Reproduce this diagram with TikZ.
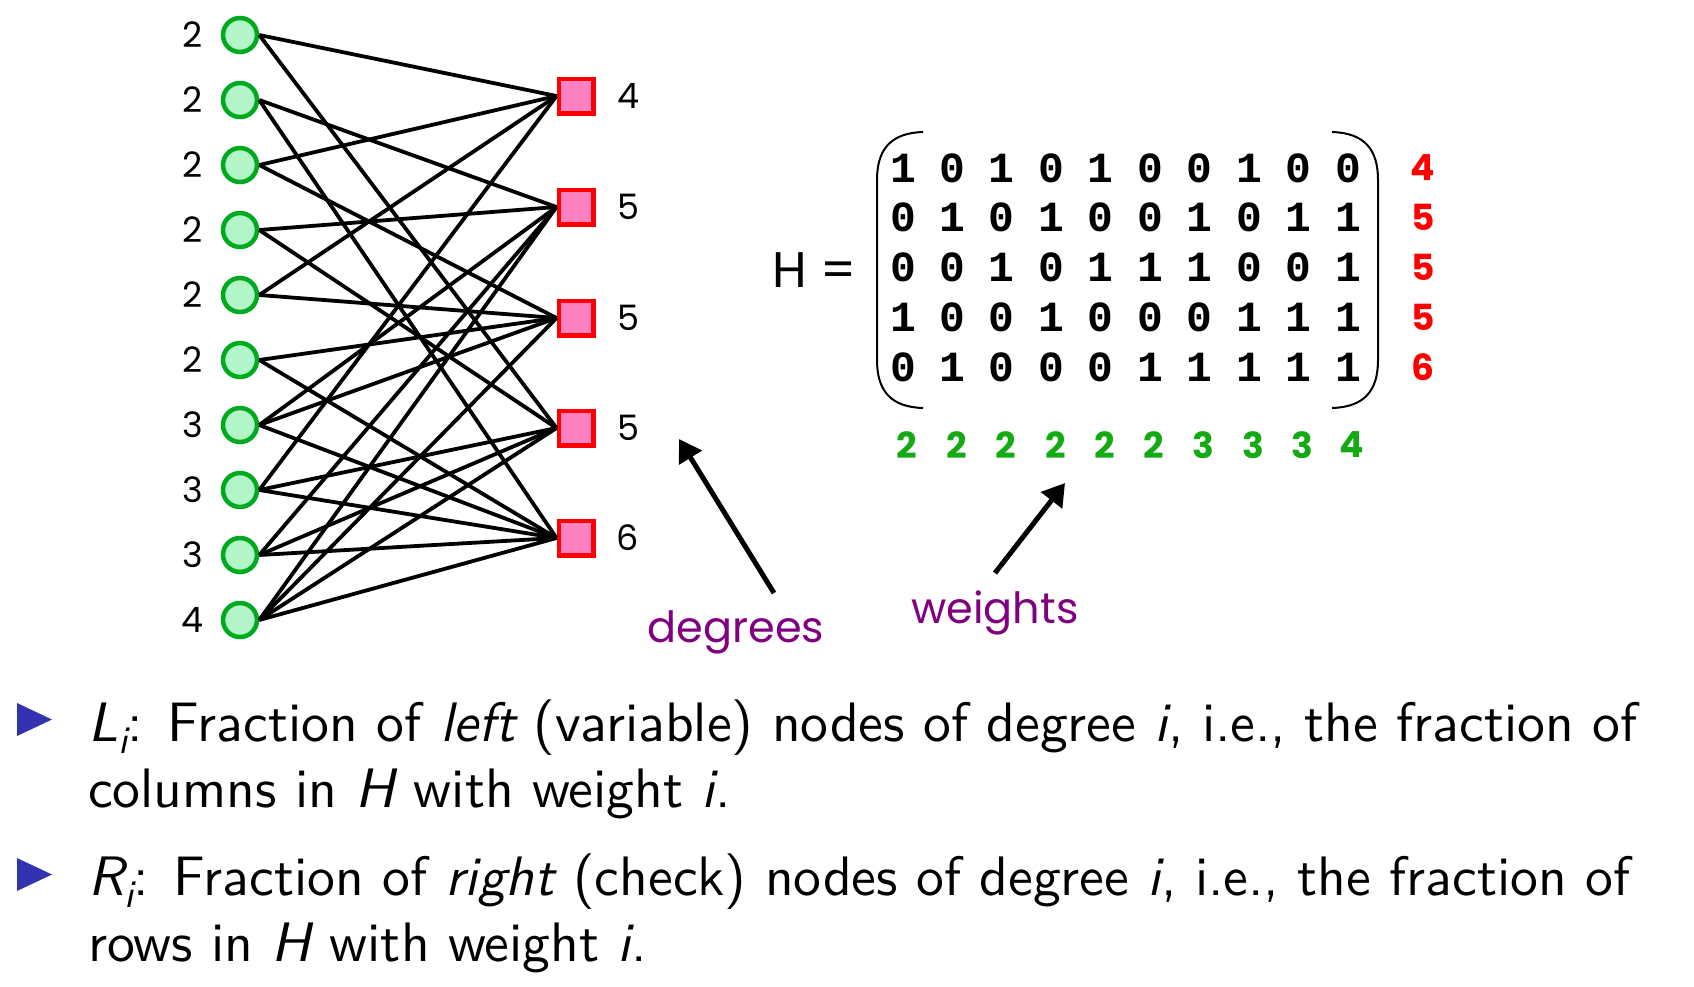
\documentclass[tikz,border=0pt]{standalone}
\usepackage{fontspec}
\usetikzlibrary{arrows.meta}
\newfontfamily\comic{Poppins}
\newfontfamily\monof{Liberation Mono}
\newfontfamily\bsans{lmsans10-regular}[Extension=.otf,ItalicFont=lmsans10-oblique]
\definecolor{vgreen}{RGB}{0,170,30}
\definecolor{vfill}{RGB}{178,245,200}
\definecolor{cpink}{RGB}{255,128,192}
\definecolor{wgreen}{RGB}{20,170,20}
\definecolor{purp}{RGB}{128,0,128}
\definecolor{bulletblue}{RGB}{51,51,178}
\newcommand\lowsub[1]{\raisebox{-0.22em}{\fontsize{39}{39}\selectfont\itshape #1}}
\begin{document}
\begin{tikzpicture}[x=1pt,y=-1pt]
\useasboundingbox (0,0) rectangle (1694,986);
\tikzset{
  var/.style={circle,draw=vgreen,fill=vfill,line width=4.5pt,minimum size=34pt,inner sep=0pt},
  chk/.style={rectangle,draw=red,fill=cpink,line width=4.5pt,minimum size=34.5pt,inner sep=0pt},
  edge/.style={line width=3.8pt,black},
  lbl/.style={font=\comic\fontsize{35}{35}\selectfont,inner sep=0pt},
  mat/.style={font=\monof\bfseries\fontsize{43}{43}\selectfont,inner sep=0pt},
  rw/.style={font=\comic\bfseries\fontsize{36}{36}\selectfont,text=red,inner sep=0pt},
  cw/.style={font=\comic\bfseries\fontsize{36}{36}\selectfont,text=wgreen,inner sep=0pt},
  note/.style={font=\comic\fontsize{43}{43}\selectfont,text=purp,inner sep=0pt},
  arr/.style={line width=5pt,-{Triangle[length=22pt,width=26pt]}},
  paren/.style={line width=2pt},
  txt/.style={font=\bsans\fontsize{55.6}{60}\selectfont,inner sep=0pt,anchor=base west},
}
% variable nodes
\foreach \i/\d in {1/2,2/2,3/2,4/2,5/2,6/2,7/3,8/3,9/3,10/4} {
  \node[var] (v\i) at (240,{35+65*(\i-1)}) {};
  \node[lbl] (lv\i) at (193,{35+65*(\i-1)}) {\d};
}
% check nodes
\foreach \j/\y/\d in {1/96/4,2/207/5,3/318/5,4/428/5,5/538/6} {
  \node[chk] (c\j) at (576,\y) {};
  \node[lbl] (lc\j) at (628,\y) {\d};
}
% edges
\foreach \j/\lst in {1/{1,3,5,8},2/{2,4,7,9,10},3/{3,5,6,7,10},4/{1,4,8,9,10},5/{2,6,7,8,9,10}} {
  \foreach \i in \lst {
    \draw[edge] (v\i.east) -- (c\j.west);
  }
}
% matrix
\node[font=\comic\fontsize{50}{50}\selectfont,inner sep=0pt] (Hlbl) at (815,270) {H =};
\draw[paren] (923,132) .. controls (890,133) and (877,150) .. (877,180) -- (877,360) .. controls (877,390) and (890,407) .. (923,408);
\draw[paren] (1332,132) .. controls (1365,133) and (1378,150) .. (1378,180) -- (1378,360) .. controls (1378,390) and (1365,407) .. (1332,408);
\foreach \row [count=\r] in {{1,0,1,0,1,0,0,1,0,0},{0,1,0,1,0,0,1,0,1,1},{0,0,1,0,1,1,1,0,0,1},{1,0,0,1,0,0,0,1,1,1},{0,1,0,0,0,1,1,1,1,1}} {
  \foreach \v [count=\c] in \row {
    \node[mat] (m\r-\c) at ({903+49.44*(\c-1)},{168+49.75*(\r-1)}) {\v};
  }
}
\foreach \d [count=\r] in {4,5,5,5,6} {
  \node[rw] (rw\r) at (1423,{168+49.75*(\r-1)}) {\d};
}
\foreach \d [count=\c] in {2,2,2,2,2,2,3,3,3,4} {
  \node[cw] (cw\c) at ({907+49.44*(\c-1)},445) {\d};
}
% arrows and notes
\coordinate (dt) at (774,593);
\coordinate (dh) at (679,439);
\draw[arr] (dt) -- (dh);
\coordinate (wt) at (995,573);
\coordinate (wh) at (1065,483);
\draw[arr] (wt) -- (wh);
\node[note,anchor=base] (deg) at (736,642) {degrees};
\node[note,anchor=base] (wts) at (995,623) {weights};
% bullets
\fill[bulletblue] (17,703) -- (52,719.5) -- (17,736) -- cycle;
\fill[bulletblue] (17,858) -- (52,874.5) -- (17,891) -- cycle;
\node[txt] (t1) at (88,741) {{\itshape L}\lowsub{i}: Fraction of {\itshape left} (variable) nodes of degree {\itshape i}, i.e., the fraction of};
\node[txt] (t2) at (88,807) {columns in {\itshape H} with weight {\itshape i}.};
\node[txt] (t3) at (88,895) {{\itshape R}\lowsub{i}: Fraction of {\itshape right} (check) nodes of degree {\itshape i}, i.e., the fraction of};
\node[txt] (t4) at (88,961) {rows in {\itshape H} with weight {\itshape i}.};
\end{tikzpicture}
\end{document}
